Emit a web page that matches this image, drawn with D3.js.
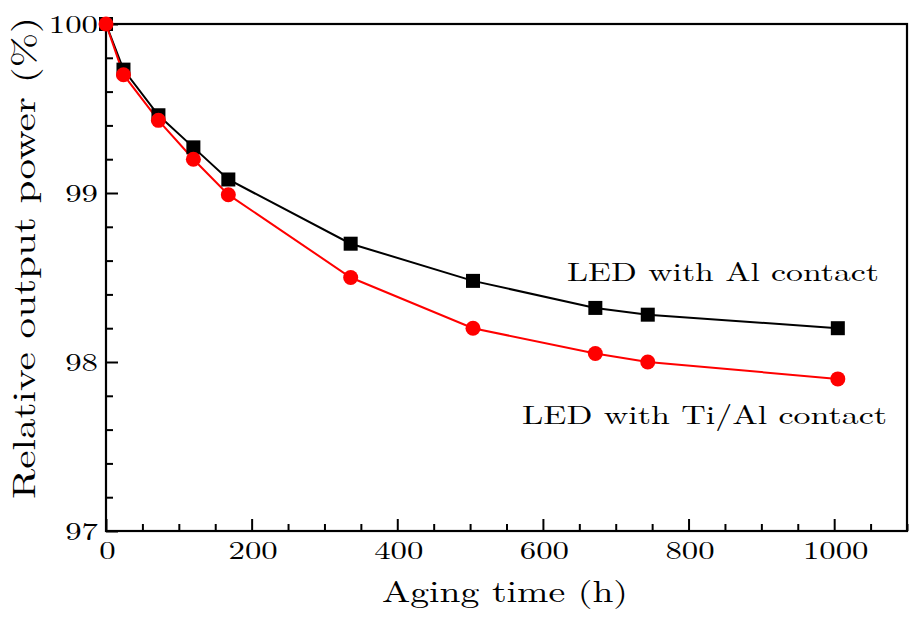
<!DOCTYPE html>
<html><head><meta charset="utf-8">
<script src="https://cdn.jsdelivr.net/npm/d3@7"></script>
<style>
html,body{margin:0;padding:0;background:#fff;}
text{font-family:"Latin Modern Roman","CMU Serif","Liberation Serif",serif;fill:#000;}
</style></head>
<body>
<svg id="chart" width="917" height="621"></svg>
<script>
const agingTime = [0, 24, 72, 120, 168, 336, 504, 672, 744, 1005];
const alContact = [100, 99.73, 99.46, 99.27, 99.08, 98.70, 98.48, 98.32, 98.28, 98.20];
const tiAlContact = [100, 99.70, 99.43, 99.20, 98.99, 98.50, 98.20, 98.05, 98.00, 97.90];
const xTickLabels = [0, 200, 400, 600, 800, 1000];
const yTickLabels = [97, 98, 99, 100];
const seriesNames = ["LED with Al contact", "LED with Ti/Al contact"];

const FONT = '"Latin Modern Roman","CMU Serif","Liberation Serif",serif';
const svg = d3.select("#chart");
const L = 106, R = 907, T = 24, B = 531;
const x = d3.scaleLinear().domain([0, 1100]).range([L, R]);
const y = d3.scaleLinear().domain([97, 100]).range([B, T]);

const xMinor = d3.range(0, 1101, 50).filter(v => v % 200 !== 0);
const yMinor = d3.range(97, 100.001, 0.2).filter(v => Math.abs(v - Math.round(v)) > 1e-6);

const gx = svg.append("g").attr("transform", `translate(0,${B})`);
gx.call(d3.axisBottom(x).tickValues(xMinor).tickSize(-7).tickFormat(""));
const gx2 = svg.append("g").attr("transform", `translate(0,${B})`);
gx2.call(d3.axisBottom(x).tickValues(xTickLabels).tickSize(-12).tickPadding(10).tickFormat(d3.format("d")));
const gy = svg.append("g").attr("transform", `translate(${L},0)`);
gy.call(d3.axisLeft(y).tickValues(yMinor).tickSize(-7).tickFormat(""));
const gy2 = svg.append("g").attr("transform", `translate(${L},0)`);
gy2.call(d3.axisLeft(y).tickValues(yTickLabels).tickSize(-12).tickPadding(8).tickFormat(d3.format("d")));
[gx, gx2, gy, gy2].forEach(g => {
  g.select(".domain").remove();
  g.selectAll(".tick line").attr("stroke", "#000").attr("stroke-width", 2);
  g.selectAll(".tick text").style("font-size", "25px").style("font-family", FONT)
    .attr("textLength", function() { return 16.4 * this.textContent.length; })
    .attr("lengthAdjust", "spacingAndGlyphs");
});
gx2.selectAll(".tick text").attr("dx", "1px");

svg.append("rect").attr("x", L).attr("y", T).attr("width", R - L).attr("height", B - T)
  .attr("fill", "none").attr("stroke", "#000").attr("stroke-width", 2.2);

const line = d3.line().x(d => x(d[0])).y(d => y(d[1]));
const blackData = agingTime.map((t, i) => [t, alContact[i]]);
const redData = agingTime.map((t, i) => [t, tiAlContact[i]]);

svg.append("path").datum(blackData).attr("d", line).attr("fill", "none").attr("stroke", "#000").attr("stroke-width", 2);
svg.append("path").datum(redData).attr("d", line).attr("fill", "none").attr("stroke", "#ff0000").attr("stroke-width", 2);

const sq = 14;
svg.selectAll("rect.sq").data(blackData).enter().append("rect").attr("class", "sq")
  .attr("x", d => x(d[0]) - sq / 2).attr("y", d => y(d[1]) - sq / 2)
  .attr("width", sq).attr("height", sq).attr("fill", "#000");
svg.selectAll("circle.ci").data(redData).enter().append("circle").attr("class", "ci")
  .attr("cx", d => x(d[0])).attr("cy", d => y(d[1])).attr("r", 7.5).attr("fill", "#ff0000");

function label(xp, yp, size, len, txt, tr) {
  const t = svg.append("text").attr("x", xp).attr("y", yp)
    .attr("textLength", len).attr("lengthAdjust", "spacingAndGlyphs")
    .style("font-size", size + "px").style("font-family", FONT).text(txt);
  if (tr) t.attr("transform", tr);
  return t;
}
label(567, 281, 26, 312, seriesNames[0]);
label(522, 424, 26, 365, seriesNames[1]);
label(382, 602, 30, 246, "Aging time (h)");
label(0, 0, 32, 482, "Relative output power (%)", "translate(35,499) rotate(-90)");
</script>
</body></html>
